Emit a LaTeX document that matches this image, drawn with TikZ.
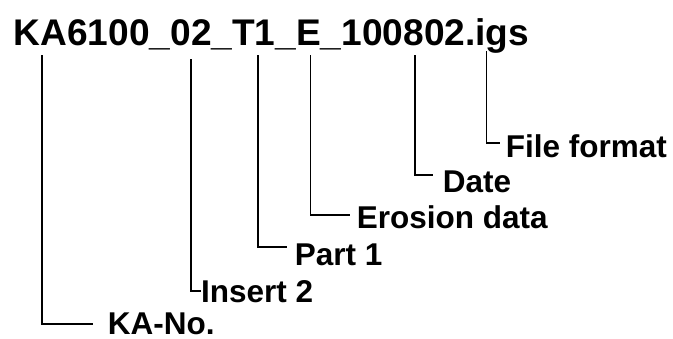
\documentclass[tikz,border=0pt]{standalone}
\usepackage{fontspec}
\setmainfont{Liberation Sans}

\tikzstyle{lbl} = [anchor=base west, inner sep=0mm,
                   font=\bfseries\fontsize{31.5}{33}\selectfont]
\tikzstyle{lead} = [draw, line width=1.2pt]

\begin{document}
\begin{tikzpicture}[x=1pt,y=-1pt]

\useasboundingbox (0,0) rectangle (673,338);

\node[anchor=base west,inner sep=0mm,
      font=\bfseries\fontsize{37.1}{40}\selectfont]
     at (13.5,45) (name) {KA6100\_02\_T1\_E\_100802.igs};

\coordinate (tKA) at (42,55);
\coordinate (tIn) at (191,59);
\coordinate (tPa) at (258,55);
\coordinate (tEr) at (310.5,55);
\coordinate (tDa) at (415,55);
\coordinate (tFi) at (486.5,51);

\coordinate (eKA) at (93,324);
\coordinate (eIn) at (201,291);
\coordinate (ePa) at (287,247);
\coordinate (eEr) at (350,215);
\coordinate (eDa) at (433,175);
\coordinate (eFi) at (500,143);

\node[lbl] at (107.7,334) (capKA) {KA-No.};
\node[lbl] at (201,302) (capIn) {Insert 2};
\node[lbl] at (294.6,265) (capPa) {Part 1};
\node[lbl] at (356.6,228) (capEr) {Erosion data};
\node[lbl] at (442.6,192) (capDa) {Date};
\node[lbl] at (505.7,157) (capFi) {File format};

\draw[lead] (tKA) |- (eKA);
\draw[lead] (tIn) |- (eIn);
\draw[lead] (tPa) |- (ePa);
\draw[lead] (tEr) |- (eEr);
\draw[lead] (tDa) |- (eDa);
\draw[lead] (tFi) |- (eFi);

\end{tikzpicture}
\end{document}
